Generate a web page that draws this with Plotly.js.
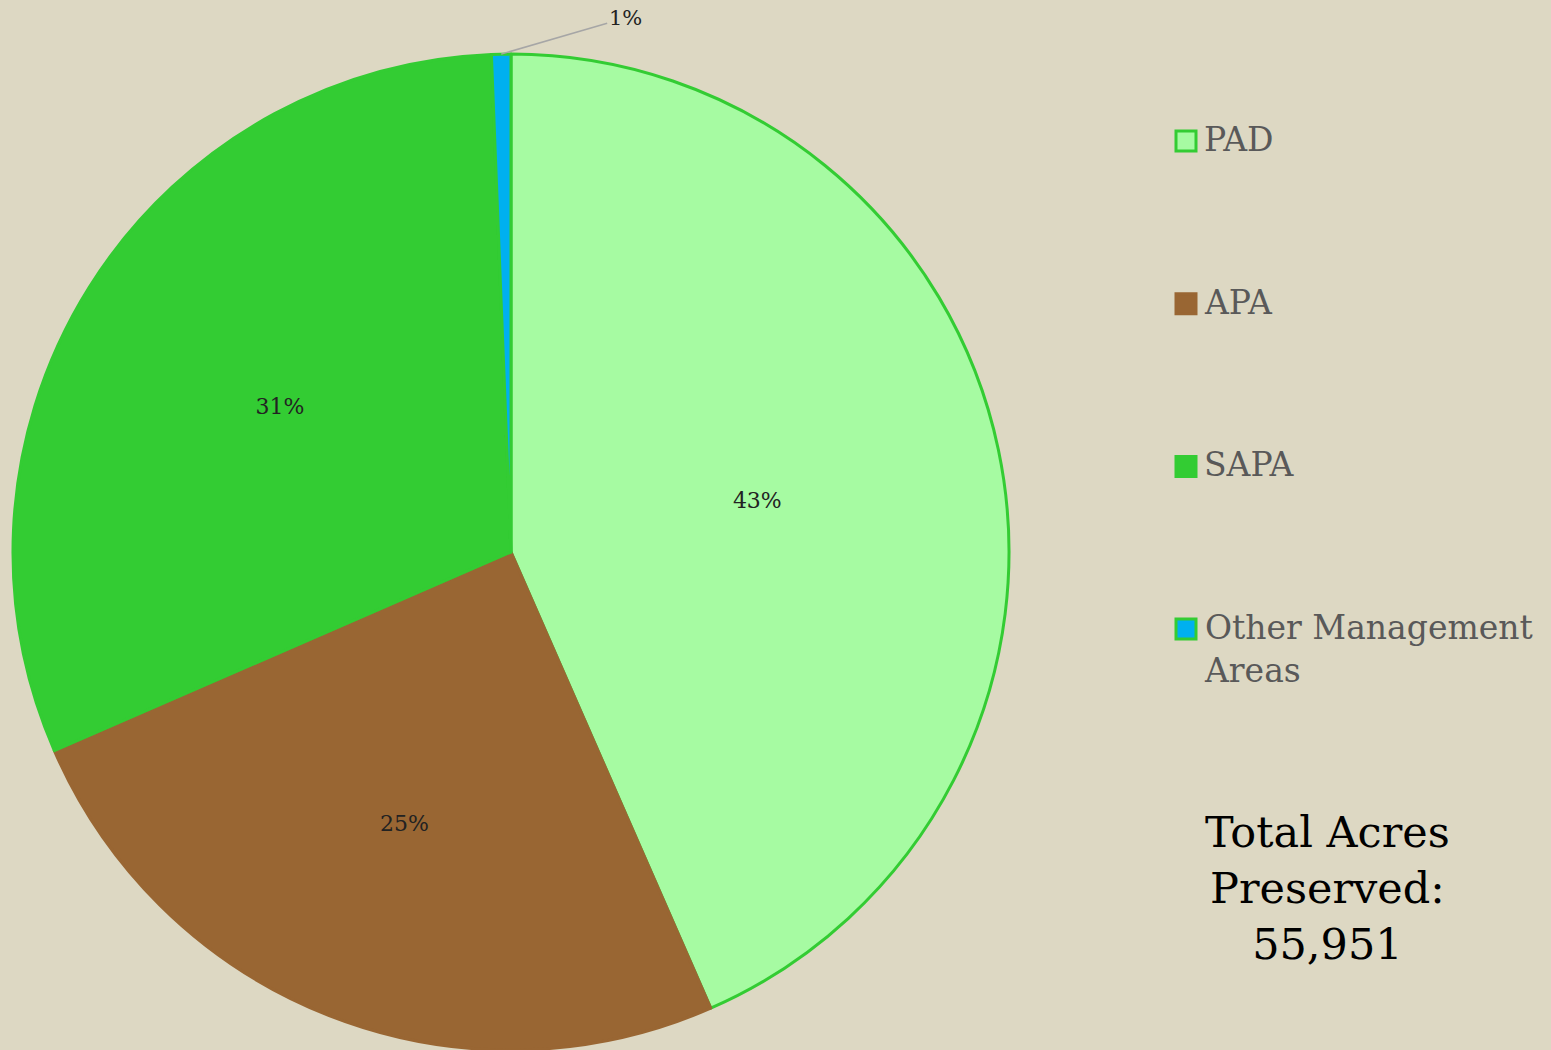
<!DOCTYPE html>
<html>
<head>
<meta charset="utf-8">
<script src="https://cdn.plot.ly/plotly-3.0.1.min.js"></script>
<style>
  html, body { margin: 0; padding: 0; background: #DDD8C3; }
  #chart { width: 1551px; height: 1050px; }
</style>
</head>
<body>
<div id="chart"></div>
<script>
// ---- data ----
const categories = ["PAD", "APA", "SAPA", "Other Management Areas"];
const acres = [24300, 14010, 17290, 351];
const fillColors = ["#A6FBA2", "#996633", "#33CC33", "#00B0F0"];
const borderColors = ["#33CC33", "#996633", "#33CC33", "#33CC33"];
const totalLabel = "Total Acres<br>Preserved:";

// ---- layout helpers ----
const W = 1551, H = 1050;
const px = v => v / W;
const py = v => 1 - v / H;
const FONT = "DejaVu Serif, Liberation Serif, serif";

const total = acres.reduce((a, b) => a + b, 0);

// pie geometry (pixels)
const pieX0 = 13, pieX1 = 1009, pieTop = 54, pieBottom = 1050;
const cx = (pieX0 + pieX1) / 2, cyPie = (pieTop + pieBottom) / 2;
const R = Math.min(pieX1 - pieX0, pieBottom - pieTop) / 2;

const trace = {
  type: "pie",
  labels: categories,
  values: acres,
  sort: false,
  direction: "clockwise",
  rotation: 0,
  marker: { colors: fillColors, line: { color: borderColors, width: 3 } },
  textinfo: "percent",
  texttemplate: "%{percent:.0%}",
  textposition: ["inside", "inside", "inside", "none"],
  insidetextorientation: "horizontal",
  insidetextfont: { family: FONT, size: 22, color: "#222222" },
  hoverinfo: "label+value+percent",
  showlegend: false,
  domain: { x: [px(pieX0), px(pieX1)], y: [py(pieBottom), py(pieTop)] }
};

const shapes = [];
const annotations = [];
function wrap(s) {
  if (s.length <= 16) return s;
  const words = s.split(" ");
  let line = "", out = [];
  words.forEach(w => {
    if ((line + " " + w).trim().length > 16) { out.push(line.trim()); line = w; }
    else line += " " + w;
  });
  out.push(line.trim());
  return out.join("<br>");
}
categories.forEach((c, i) => {
  const cy = 141 + i * 162.7;
  shapes.push({
    type: "rect", xref: "paper", yref: "paper",
    x0: px(1176), x1: px(1196), y0: py(cy + 10), y1: py(cy - 10),
    fillcolor: fillColors[i],
    line: { color: borderColors[i], width: 3 }
  });
  annotations.push({
    xref: "paper", yref: "paper",
    x: px(1202), y: py(cy - 23),
    xanchor: "left", yanchor: "top", align: "left",
    text: wrap(c), showarrow: false,
    font: { family: FONT, size: 33, color: "#595959" }
  });
});

// outside label for the small last slice, with leader line to its arc
let cum = 0;
acres.forEach((v, i) => {
  const mid = (cum + v / 2) / total * 2 * Math.PI;
  cum += v;
  if (i === acres.length - 1) {
    const tipX = cx + R * Math.sin(mid);
    const tipY = cyPie - R * Math.cos(mid);
    annotations.push({
      xref: "paper", yref: "paper",
      x: px(tipX), y: py(tipY),
      text: Math.round(v / total * 100) + "%",
      showarrow: true, arrowhead: 0, arrowwidth: 1.5, arrowcolor: "#A6A6A6",
      ax: 124, ay: -36, xanchor: "center", yanchor: "middle",
      font: { family: FONT, size: 21, color: "#222222" }
    });
  }
});

annotations.push({
  xref: "paper", yref: "paper",
  x: px(1327), y: py(888),
  xanchor: "center", yanchor: "middle", align: "center",
  text: totalLabel + "<br>" + total.toLocaleString("en-US"),
  showarrow: false,
  font: { family: FONT, size: 43, color: "#000000" }
});

const layout = {
  width: W, height: H,
  paper_bgcolor: "#DDD8C3",
  plot_bgcolor: "#DDD8C3",
  margin: { l: 0, r: 0, t: 0, b: 0 },
  showlegend: false,
  shapes: shapes,
  annotations: annotations
};

Plotly.newPlot("chart", [trace], layout, { displayModeBar: false, staticPlot: true });
</script>
</body>
</html>
